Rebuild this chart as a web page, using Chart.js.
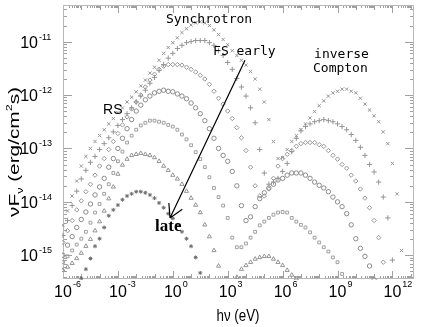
<!DOCTYPE html>
<html><head><meta charset="utf-8">
<script src="https://cdn.jsdelivr.net/npm/chart.js@4"></script>
<style>html,body{margin:0;padding:0;background:#fff}canvas{display:block}</style>
</head><body>
<canvas id="c" width="436" height="327"></canvas>
<script>
// photon energy grid, log10(hν / eV)
const logE = [-6,-5.75,-5.5,-5.25,-5,-4.75,-4.5,-4.25,-4,-3.75,-3.5,-3.25,-3,-2.75,-2.5,-2.25,-2,-1.75,-1.5,-1.25,-1,-0.75,-0.5,-0.25,0,0.25,0.5,0.75,1,1.25,1.5,1.75,2,2.25,2.5,2.75,3,3.25,3.5,3.75,4,4.25,4.5,4.75,5,5.25,5.5,5.75,6,6.25,6.5,6.75,7,7.25,7.5,7.75,8,8.25,8.5,8.75,9,9.25,9.5,9.75,10,10.25,10.5,10.75,11,11.25,11.5,11.75,12,12.25,12.5,12.75,13];

// log10(νFν) for each epoch (early -> late)
const t1 = [-14.44,-14.17,-13.89,-13.61,-13.33,-13.15,-13.00,-12.87,-12.76,-12.65,
-12.54,-12.44,-12.33,-12.24,-12.13,-12.04,-11.94,-11.83,-11.72,-11.59,
-11.48,-11.35,-11.22,-11.11,-11.02,-10.93,-10.83,-10.76,-10.69,-10.65,
-10.63,-10.65,-10.70,-10.78,-10.87,-10.96,-11.06,-11.17,-11.26,-11.35,
-11.44,-11.56,-11.70,-11.89,-12.13,-12.46,-12.87,-13.19,-13.17,-13.02,
-12.87,-12.76,-12.65,-12.54,-12.43,-12.31,-12.20,-12.11,-12.02,-11.96,
-11.93,-11.89,-11.89,-11.93,-11.96,-12.06,-12.17,-12.28,-12.39,-12.50,
-12.69,-12.91,-13.28,-13.85,-14.91];
const t2 = [-14.63,-14.35,-14.07,-13.80,-13.57,-13.41,-13.26,-13.15,-13.02,-12.91,
-12.80,-12.69,-12.57,-12.46,-12.35,-12.24,-12.13,-12.02,-11.91,-11.78,
-11.67,-11.54,-11.43,-11.31,-11.22,-11.13,-11.07,-11.02,-11.00,-10.98,
-10.98,-10.98,-11.02,-11.07,-11.17,-11.26,-11.39,-11.52,-11.69,-11.85,
-12.02,-12.24,-12.52,-13.02,-13.46,-13.67,-13.63,-13.56,-13.43,-13.28,
-13.06,-12.81,-12.67,-12.59,-12.54,-12.50,-12.48,-12.46,-12.48,-12.50,
-12.54,-12.59,-12.65,-12.74,-12.85,-12.98,-13.13,-13.30,-13.44,-13.63,
-13.91,-14.30,-15.09];
const t3 = [-14.76,-14.54,-14.35,-14.15,-13.98,-13.81,-13.67,-13.50,-13.33,-13.19,
-13.02,-12.87,-12.72,-12.56,-12.41,-12.26,-12.13,-12.00,-11.85,-11.72,
-11.61,-11.52,-11.46,-11.43,-11.43,-11.43,-11.44,-11.48,-11.52,-11.57,
-11.63,-11.70,-11.80,-11.93,-12.06,-12.17,-12.30,-12.44,-12.61,-12.80,
-13.04,-13.35,-13.70,-13.89,-13.89,-13.76,-13.56,-13.33,-13.19,-13.11,
-13.04,-12.96,-12.91,-12.89,-12.89,-12.89,-12.93,-12.96,-13.04,-13.13,
-13.20,-13.30,-13.37,-13.50,-13.61,-13.76,-13.93,-14.11,-14.35,-14.67,
-15.13];
const t4 = [-15.00,-14.81,-14.65,-14.48,-14.33,-14.19,-14.04,-13.87,-13.72,-13.56,
-13.35,-13.19,-13.00,-12.81,-12.63,-12.46,-12.30,-12.19,-12.09,-12.02,
-11.96,-11.93,-11.91,-11.93,-11.94,-11.98,-12.02,-12.07,-12.15,-12.24,
-12.35,-12.48,-12.63,-12.81,-13.00,-13.13,-13.24,-13.43,-13.70,-14.07,
-14.35,-14.28,-14.09,-13.94,-13.83,-13.74,-13.67,-13.59,-13.56,-13.50,
-13.46,-13.46,-13.46,-13.50,-13.56,-13.63,-13.69,-13.74,-13.81,-13.91,
-14.00,-14.09,-14.22,-14.43,-14.69,-14.87,-15.02,-15.20,-15.46];
const t5 = [-15.13,-15.02,-14.91,-14.80,-14.69,-14.56,-14.39,-14.20,-14.04,-13.85,
-13.67,-13.46,-13.24,-13.06,-12.89,-12.76,-12.65,-12.57,-12.52,-12.48,
-12.48,-12.50,-12.52,-12.56,-12.59,-12.65,-12.74,-12.83,-12.94,-13.07,
-13.20,-13.35,-13.54,-13.74,-13.91,-14.07,-14.30,-14.67,-14.85,-14.85,
-14.78,-14.67,-14.56,-14.44,-14.37,-14.30,-14.24,-14.20,-14.19,-14.20,
-14.30,-14.37,-14.43,-14.48,-14.57,-14.67,-14.76,-14.85,-14.93,-15.04,
-15.13,-15.35];
const t6 = [-15.28,-15.22,-15.15,-15.06,-14.96,-14.83,-14.70,-14.54,-14.37,-14.17,
-13.94,-13.72,-13.48,-13.31,-13.20,-13.13,-13.11,-13.09,-13.11,-13.13,
-13.17,-13.24,-13.33,-13.41,-13.50,-13.57,-13.67,-13.80,-13.93,-14.06,
-14.20,-14.43,-14.65,-14.91,-15.20,null,null,null,-15.41,-15.26,
-15.19,-15.13,-15.07,-15.04,-15.02,-15.02,-15.07,-15.13,-15.19,-15.28,
-15.37,-15.44];
const t7 = [null,null,null,-15.59,-15.43,-15.26,-15.06,-14.83,-14.69,-14.48,
-14.26,-14.15,-14.06,-13.96,-13.89,-13.85,-13.81,-13.81,-13.83,-13.87,
-13.93,-14.02,-14.11,-14.22,-14.31,-14.43,-14.56,-14.69,-14.83,-15.04,
-15.33];

const xTickExps = [-6,-3,0,3,6,9,12];
const yTickExps = [-11,-12,-13,-14,-15];

function pts(arr){
  const out=[];
  arr.forEach((v,i)=>{ if(v!==null) out.push({x:Math.pow(10,logE[i]), y:Math.pow(10,v)}); });
  return out;
}
const styles = [
  {d:t1, s:'crossRot', r:2.3, c:'#959595'},
  {d:t2, s:'cross', r:2.6, c:'#959595'},
  {d:t3, s:'rectRot', r:2.2, c:'#959595'},
  {d:t4, s:'circle', r:2.2, c:'#8a8a8a'},
  {d:t5, s:'rect', r:2.0, c:'#a0a0a0'},
  {d:t6, s:'triangle', r:2.4, c:'#959595'},
  {d:t7, s:'star', r:2.0, c:'#707070'}
];

const axesPlugin = {
  id:'axes',
  beforeDatasetsDraw(chart){
    const {ctx, chartArea:a, scales:{x,y}} = chart;
    ctx.save();
    ctx.lineWidth = 1;
    ctx.strokeStyle = '#a0a0a0';
    ctx.beginPath();
    for(let d=-6; d<=13; d++){
      for(let m=1;m<10;m++){
        const v = m*Math.pow(10,d);
        if(v<x.min*0.999 || v>x.max) continue;
        const px = Math.round(x.getPixelForValue(v))+0.5;
        const len = m===1 ? (d%3===0 ? 8 : 5) : 3;
        ctx.moveTo(px,a.bottom); ctx.lineTo(px,a.bottom-len);
        ctx.moveTo(px,a.top); ctx.lineTo(px,a.top+len);
      }
    }
    for(let d=-16; d<=-10; d++){
      for(let m=1;m<10;m++){
        const v = m*Math.pow(10,d);
        if(v<y.min || v>y.max) continue;
        const py = Math.round(y.getPixelForValue(v))+0.5;
        const len = m===1 ? 9 : 4;
        ctx.moveTo(a.left,py); ctx.lineTo(a.left+len,py);
        ctx.moveTo(a.right,py); ctx.lineTo(a.right-len,py);
      }
    }
    ctx.stroke();
    ctx.strokeStyle = '#b8b8b8';
    ctx.strokeRect(a.left+0.5,a.top+0.5,a.right-a.left-1,a.bottom-a.top-1);
    // tick labels
    ctx.fillStyle = '#000';
    ctx.textBaseline = 'alphabetic';
    xTickExps.forEach(e=>{
      const px = x.getPixelForValue(Math.pow(10,e));
      ctx.font = '16px "Liberation Sans", Arial, sans-serif';
      ctx.textAlign = 'center';
      const w = ctx.measureText('10').width;
      ctx.fillText('10', px, 297);
      ctx.font = '9px "Liberation Sans", Arial, sans-serif';
      ctx.textAlign = 'left';
      ctx.fillText(String(e), px + w/2 + 1, 287);
    });
    yTickExps.forEach(e=>{
      const py = y.getPixelForValue(Math.pow(10,e));
      ctx.font = '16px "Liberation Sans", Arial, sans-serif';
      ctx.textAlign = 'right';
      ctx.fillText('10', 38, py+6);
      ctx.font = '9px "Liberation Sans", Arial, sans-serif';
      ctx.textAlign = 'left';
      ctx.fillText(String(e), 39, py-2);
    });
    // axis titles
    drawParts(ctx, [
      {t:'h\u03bd (eV)', f:16, dy:0}
    ], 238, 321, 0, 43);
    drawParts(ctx, [
      {t:'\u03bd', f:15, dy:0},
      {t:'F', f:15, dy:0},
      {t:'\u03bd', f:9, dy:4},
      {t:' (erg/cm', f:15, dy:0},
      {t:'2', f:9, dy:-7},
      {t:'s)', f:15, dy:0}
    ], 19, 152, -Math.PI/2, 130);
    ctx.restore();
  }
};

function drawParts(ctx, parts, cx, cy, rot, targetW){
  ctx.save();
  ctx.translate(cx, cy);
  ctx.rotate(rot);
  let W = 0;
  parts.forEach(p=>{ ctx.font = p.f+'px "Liberation Sans", Arial, sans-serif'; p.w = ctx.measureText(p.t).width; W += p.w; });
  const sx = targetW / W;
  ctx.scale(sx, 1);
  let xx = -W/2;
  ctx.textAlign = 'left';
  ctx.fillStyle = '#000';
  parts.forEach(p=>{ ctx.font = p.f+'px "Liberation Sans", Arial, sans-serif'; ctx.fillText(p.t, xx, p.dy); xx += p.w; });
  ctx.restore();
}

// annotation anchors in data space (log10 E, log10 νFν)
const notes = [
  {t:'Synchrotron', lx:-0.37, ly:-10.65, font:'13px "DejaVu Sans Mono", monospace'},
  {t:'FS early', lx:2.20, ly:-11.26, font:'13px "DejaVu Sans Mono", monospace'},
  {t:'inverse', lx:7.72, ly:-11.30, font:'13px "DejaVu Sans Mono", monospace'},
  {t:'Compton', lx:7.66, ly:-11.56, font:'13px "DejaVu Sans Mono", monospace'},
  {t:'RS', lx:-3.81, ly:-12.35, font:'14px "Liberation Sans", Arial, sans-serif'},
  {t:'late', lx:-0.97, ly:-14.54, font:'bold 17px "Liberation Serif", serif'}
];
const arrowFrom = {lx:3.945, ly:-11.35};
const arrowTo = {lx:-0.153, ly:-14.30};

const notesPlugin = {
  id:'notes',
  afterDatasetsDraw(chart){
    const {ctx, scales:{x,y}} = chart;
    ctx.save();
    ctx.fillStyle = '#000';
    ctx.textAlign = 'left';
    ctx.textBaseline = 'alphabetic';
    notes.forEach(n=>{
      ctx.font = n.font;
      ctx.fillText(n.t, x.getPixelForValue(Math.pow(10,n.lx)), y.getPixelForValue(Math.pow(10,n.ly)));
    });
    const x0 = x.getPixelForValue(Math.pow(10,arrowFrom.lx)), y0 = y.getPixelForValue(Math.pow(10,arrowFrom.ly));
    const x1 = x.getPixelForValue(Math.pow(10,arrowTo.lx)), y1 = y.getPixelForValue(Math.pow(10,arrowTo.ly));
    ctx.strokeStyle = '#000';
    ctx.lineWidth = 1.2;
    ctx.beginPath();
    ctx.moveTo(x0,y0); ctx.lineTo(x1,y1);
    const ang = Math.atan2(y0-y1, x0-x1);
    const L = 15, h = 0.52;
    ctx.moveTo(x1,y1); ctx.lineTo(x1+L*Math.cos(ang+h), y1+L*Math.sin(ang+h));
    ctx.moveTo(x1,y1); ctx.lineTo(x1+L*Math.cos(ang-h), y1+L*Math.sin(ang-h));
    ctx.stroke();
    ctx.restore();
  }
};

new Chart(document.getElementById('c'), {
  type:'scatter',
  data:{ datasets: styles.map(s=>({
    data: pts(s.d),
    pointStyle: s.s,
    pointRadius: s.r,
    borderColor: s.c,
    backgroundColor: s.s==='star' ? s.c : 'rgba(0,0,0,0)',
    borderWidth: 1,
    showLine:false,
    clip: 1
  }))},
  options:{
    responsive:false,
    devicePixelRatio:1,
    animation:false,
    events:[],
    layout:{padding:{left:63,right:22,top:2,bottom:48}},
    plugins:{legend:{display:false}, tooltip:{enabled:false}},
    scales:{
      x:{type:'logarithmic', min:1e-6, max:Math.pow(10,13.18), display:false},
      y:{type:'logarithmic', min:Math.pow(10,-15.444), max:Math.pow(10,-10.315), display:false}
    }
  },
  plugins:[axesPlugin, notesPlugin]
});
</script>
</body></html>
